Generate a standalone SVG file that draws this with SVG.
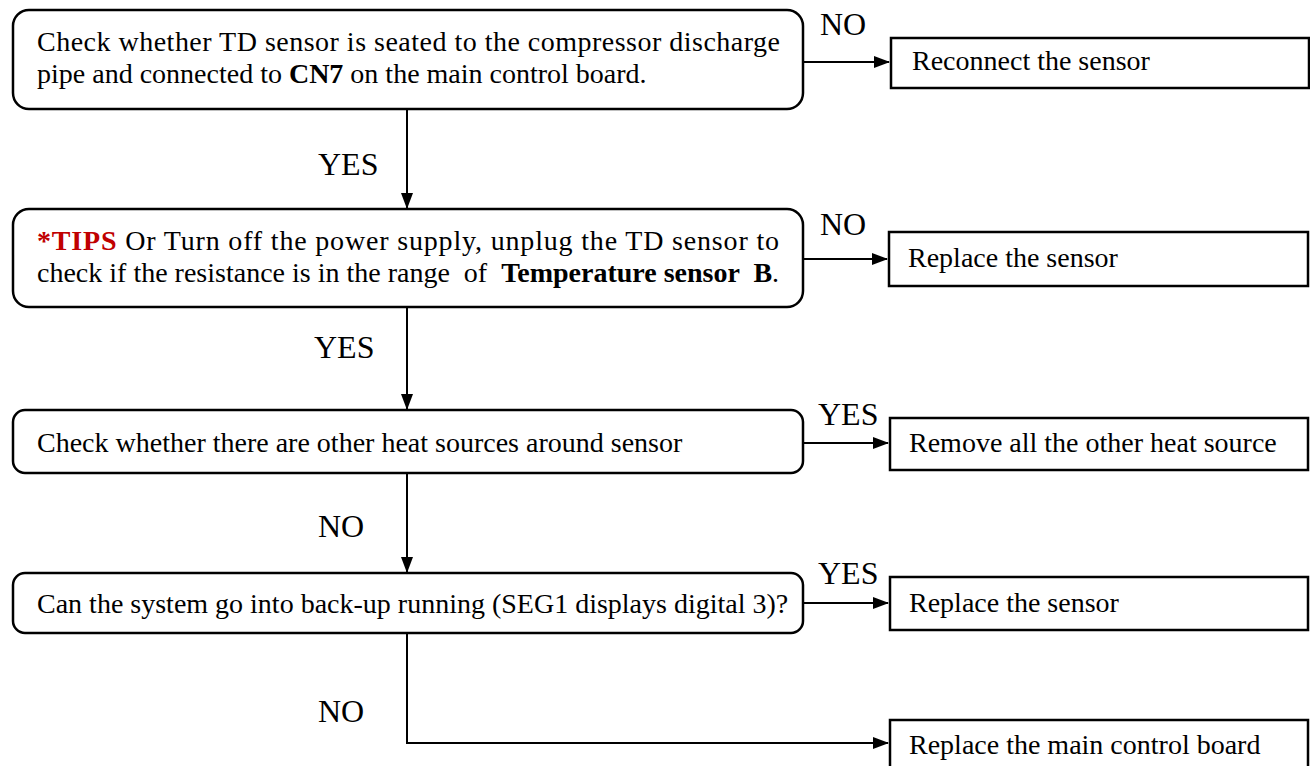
<svg xmlns="http://www.w3.org/2000/svg" width="1310" height="766" viewBox="0 0 1310 766">
<style>
.t{font-family:"Liberation Serif","Times New Roman",serif;font-size:28px;fill:#000;white-space:pre}
.l{font-family:"Liberation Serif","Times New Roman",serif;font-size:32px;fill:#000}
.b{font-weight:bold}
.r{fill:#c00000;font-weight:bold}
.dec{fill:#fff;stroke:#000;stroke-width:2.5}
.act{fill:#fff;stroke:#000;stroke-width:2.5}
.c{fill:none;stroke:#000;stroke-width:2}
</style>
<defs>
<marker id="ah" markerWidth="16" markerHeight="12" refX="15" refY="6" orient="auto" markerUnits="userSpaceOnUse">
<path d="M0,0 L16,6 L0,12 Z" fill="#000"/>
</marker>
</defs>
<g id="connectors">
<path class="c" d="M803,62 H889" marker-end="url(#ah)"/>
<path class="c" d="M407,109 V208" marker-end="url(#ah)"/>
<path class="c" d="M803,259 H887" marker-end="url(#ah)"/>
<path class="c" d="M407,307 V409" marker-end="url(#ah)"/>
<path class="c" d="M803,443 H888" marker-end="url(#ah)"/>
<path class="c" d="M407,473 V572" marker-end="url(#ah)"/>
<path class="c" d="M803,603 H888" marker-end="url(#ah)"/>
<path class="c" d="M407,633 V743 H888" marker-end="url(#ah)"/>
<text class="l" x="820" y="35">NO</text>
<text class="l" x="318" y="175">YES</text>
<text class="l" x="820" y="235">NO</text>
<text class="l" x="314" y="358">YES</text>
<text class="l" x="818" y="425">YES</text>
<text class="l" x="318" y="537">NO</text>
<text class="l" x="818" y="584">YES</text>
<text class="l" x="318" y="722">NO</text>
</g>
<g id="n1">
<rect class="dec" x="13" y="10" width="790" height="99" rx="16"/>
<text class="t" x="37" y="51" textLength="743" lengthAdjust="spacing">Check whether TD sensor is seated to the compressor discharge</text>
<text class="t" x="37" y="83">pipe and connected to <tspan class="b">CN7</tspan> on the main control board.</text>
</g>
<g id="n2">
<rect class="act" x="891" y="38" width="418" height="50"/>
<text class="t" x="912" y="70">Reconnect the sensor</text>
</g>
<g id="n3">
<rect class="dec" x="13" y="209" width="790" height="98" rx="16"/>
<text class="t" x="37" y="250" textLength="742" lengthAdjust="spacing"><tspan class="r">*TIPS</tspan> Or Turn off the power supply, unplug the TD sensor to</text>
<text class="t" x="37" y="282">check if the resistance is in the range  of  <tspan class="b">Temperature sensor  B</tspan>.</text>
</g>
<g id="n4">
<rect class="act" x="889" y="232" width="419" height="54"/>
<text class="t" x="908" y="267">Replace the sensor</text>
</g>
<g id="n5">
<rect class="dec" x="13" y="410" width="790" height="63" rx="12"/>
<text class="t" x="37" y="452">Check whether there are other heat sources around sensor</text>
</g>
<g id="n6">
<rect class="act" x="890" y="418" width="418" height="52"/>
<text class="t" x="909" y="452">Remove all the other heat source</text>
</g>
<g id="n7">
<rect class="dec" x="13" y="573" width="790" height="60" rx="12"/>
<text class="t" x="37" y="613">Can the system go into back-up running (SEG1 displays digital 3)?</text>
</g>
<g id="n8">
<rect class="act" x="890" y="577" width="418" height="53"/>
<text class="t" x="909" y="612">Replace the sensor</text>
</g>
<g id="n9">
<rect class="act" x="890" y="720" width="418" height="50"/>
<text class="t" x="909" y="754">Replace the main control board</text>
</g>
</svg>
